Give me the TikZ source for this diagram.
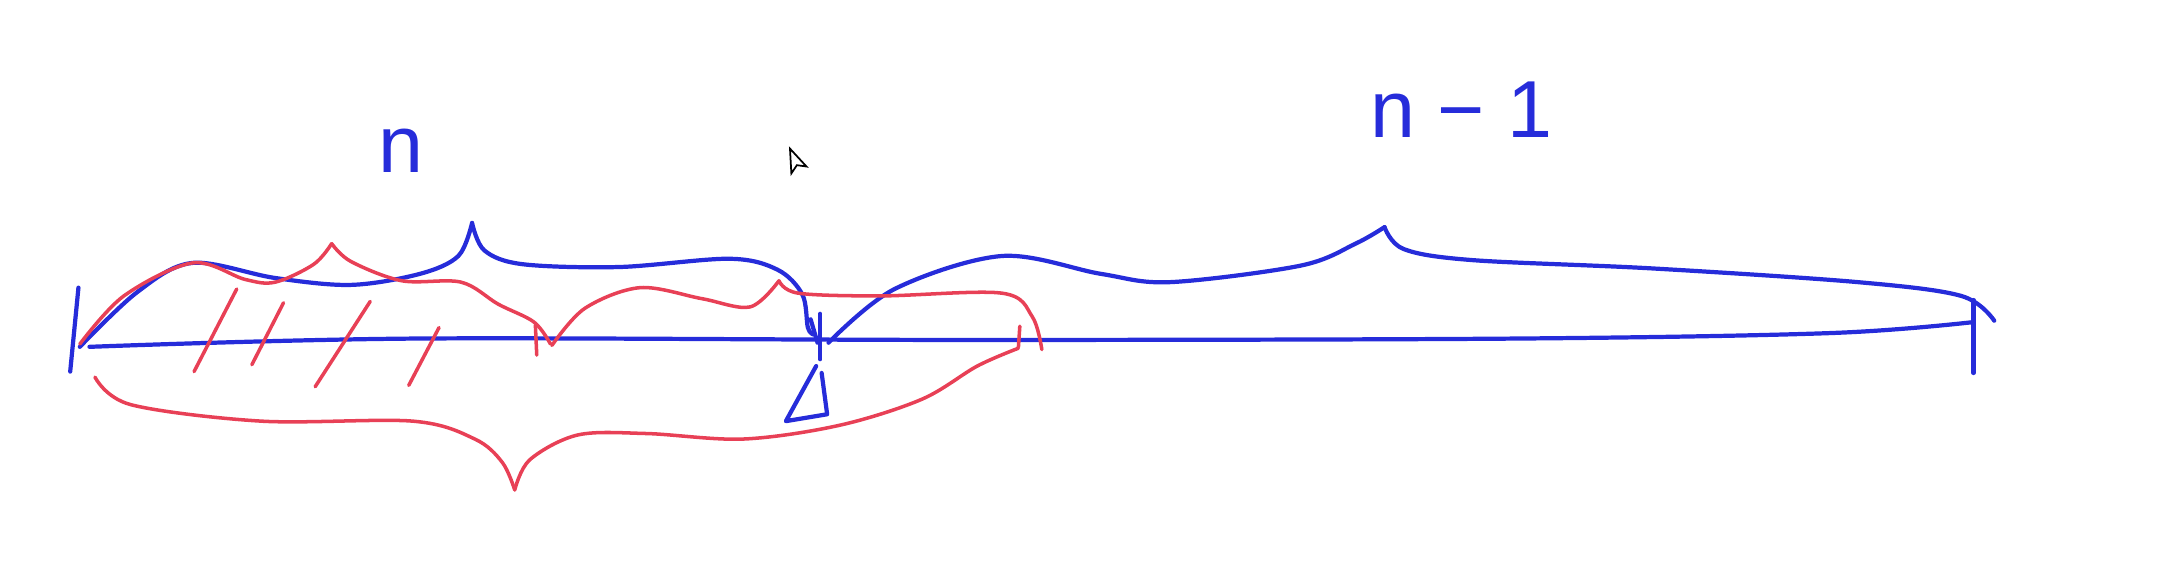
\documentclass[tikz,border=0pt]{standalone}
\usepackage{fontspec}
\newfontfamily\handfont{Liberation Sans}
\usetikzlibrary{positioning}
\definecolor{inkBlue}{RGB}{38,44,218}
\definecolor{inkRed}{RGB}{232,64,86}

\begin{document}
\begin{tikzpicture}[
    x=0.013763cm, y={(0,-0.013763cm)},
    penB/.style={draw=inkBlue, line width=1.2pt, line cap=round, line join=round},
    penR/.style={draw=inkRed, line width=1pt, line cap=round, line join=round},
    hand/.style={smooth, tension=0.55},
    lbl/.style={inner sep=0pt, text=inkBlue, font=\handfont\fontsize{23}{23}\selectfont}
]
\useasboundingbox (0,0) rectangle (1568,414);

% labels
\node[lbl, anchor=base] (lblN) at (291,125) {n};
\node[lbl, anchor=base] (lblNm1) at (1062,100) {n − 1};

% main axis and end ticks
\draw[penB] plot[hand] coordinates {(65,252) (300,246) (700,247) (1100,246) (1330,242) (1434,234)};
\draw[penB] (57,209) -- (51,270);
\draw[penB] (1434,218) -- (1434,271);

% blue brace over first n
\draw[penB] plot[hand] coordinates {(58,252) (100,212) (140,191) (200,202) (255,207) (305,199) (333,186) (343,162)};
\draw[penB] plot[hand] coordinates {(343,162) (352,182) (380,192) (450,194) (530,188) (565,196) (583,214) (587,238) (591,243)};
\draw[penB] (589,232) -- (594,249);
\draw[penB] (596,228) -- (596,261);
\draw[penB] (593,266) -- (571,306) -- (601,301) -- (597,271);

% blue brace over n-1
\draw[penB] plot[hand] coordinates {(602,249) (650,210) (728,186) (800,199) (850,205) (945,193) (985,177) (1006,165)};
\draw[penB] plot[hand] coordinates {(1006,165) (1020,181) (1070,189) (1200,195) (1350,205) (1425,215) (1449,233)};

% red braces on top
\draw[penR] plot[hand] coordinates {(58,250) (90,215) (140,191) (178,203) (200,205) (228,192) (241,177)};
\draw[penR] plot[hand] coordinates {(241,177) (255,190) (292,204) (335,205) (362,221) (388,234) (400,250)};
\draw[penR] (389,236) -- (390,258);
\draw[penR] plot[hand] coordinates {(401,251) (425,224) (465,209) (510,217) (545,223) (566,204)};
\draw[penR] plot[hand] coordinates {(566,204) (580,213) (640,215) (728,213) (750,230) (757,254)};
\draw[penR] (741,237) -- (740,252);

% hatch marks
\foreach \xa/\ya/\xb/\yb in {172/210/141/270, 206/220/183/265, 269/219/229/281, 319/238/297/280}
  \draw[penR] (\xa,\ya) -- (\xb,\yb);

% red brace underneath
\draw[penR] plot[hand] coordinates {(69,274) (95,294) (190,306) (300,306) (345,319) (365,336) (374,356)};
\draw[penR] plot[hand] coordinates {(374,356) (385,334) (420,316) (470,315) (540,319) (610,309) (670,290) (710,266) (740,253)};

% pointer
\draw[black, line width=0.5pt, fill=white] (574,108) -- (575,126) -- (579,120) -- (586,121) -- cycle;
\end{tikzpicture}
\end{document}
